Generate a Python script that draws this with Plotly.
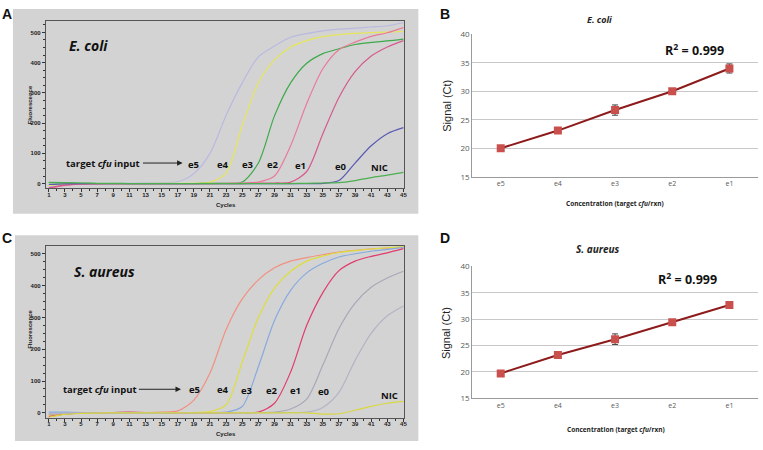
import plotly.graph_objects as go

W, H = 763, 450

# ---------------- data ----------------
cycles = [1, 3, 5, 7, 9, 11, 13, 15, 17, 19, 21, 23, 25, 27, 29, 31, 33, 35, 37, 39, 41, 43, 45]
cycle_ticks = [1, 3, 5, 7, 9, 11, 13, 15, 17, 19, 21, 23, 25, 27, 29, 31, 33, 35, 37, 39, 41, 43, 45]
fluor_ticks = [0, 100, 200, 300, 400, 500]

# Panel A: E. coli amplification curves
ecoli_e5 = [-10, -4, -1, 0, 0, 1, 2, 3, 6, 33, 100, 226, 333, 419, 455, 484, 496, 505, 511, 514, 518, 522, 532]
ecoli_e4 = [-6, -2, 0, 0, 0, 0, 0, 1, 1, 1, 5, 35, 192, 333, 409, 452, 473, 486, 493, 497, 499, 501, 503]
ecoli_e3 = [3, 2, 1, 0, 0, 0, 0, 0, 0, 0, 1, 1, 5, 68, 224, 333, 398, 430, 446, 460, 467, 472, 478]
ecoli_e2 = [-16, -6, -2, 0, 0, 0, 0, 0, 0, 0, 0, 1, 2, 5, 25, 125, 265, 380, 443, 468, 487, 499, 516]
ecoli_e1 = [-14, -5, -2, -1, 0, 0, 0, 0, 0, 0, 0, 0, 0, 1, 2, 5, 40, 165, 285, 370, 422, 452, 473]
ecoli_e0 = [-3, -1, 0, 0, 0, 0, 0, 0, 0, 0, 0, 0, 0, 0, 0, 0, 0, 1, 10, 68, 125, 165, 185]
ecoli_nic = [4, 3, 2, 1, 1, 0, 0, 0, 0, 0, 0, 0, 0, 0, 0, 0, 1, 2, 3, 10, 20, 28, 37]

# Panel C: S. aureus amplification curves
saur_e5 = [-6, -2, 0, 0, 0, 1, 1, 2, 6, 40, 125, 262, 358, 418, 456, 477, 488, 497, 505, 511, 515, 518, 521]
saur_e4 = [-8, -3, -1, 0, 0, 0, 0, 0, 0, 1, 4, 25, 160, 300, 392, 445, 477, 493, 504, 510, 515, 519, 522]
saur_e3 = [2, 2, 1, 0, 0, 0, 0, 0, 0, 0, 1, 2, 20, 145, 290, 385, 440, 470, 490, 500, 508, 514, 520]
saur_e2 = [-12, -4, -1, 0, 1, 2, 1, 1, 0, 0, 0, 0, 1, 2, 30, 128, 275, 378, 447, 477, 492, 503, 516]
saur_e1 = [-4, -2, -1, 0, 0, 0, 0, 0, 0, 0, 0, 0, 0, 1, 2, 12, 43, 150, 265, 345, 395, 424, 445]
saur_e0 = [-3, -1, 0, 0, 0, 0, 0, 0, 0, 0, 0, 0, 0, 0, 0, 1, 2, 17, 64, 165, 250, 305, 336]
saur_nic = [-14, -5, -2, -1, 0, 0, 0, 0, 0, 0, 0, 0, 0, 0, 0, 0, 0, -4, -3, 8, 20, 30, 36]

# Panels B and D: standard curves
conc = ["e5", "e4", "e3", "e2", "e1"]
ecoli_ct = [20.0, 23.1, 26.7, 30.0, 34.0]
ecoli_err = [0.2, 0.2, 0.9, 0.2, 0.8]
saur_ct = [19.7, 23.2, 26.2, 29.4, 32.7]
saur_err = [0.2, 0.2, 1.0, 0.2, 0.2]
ct_ticks = [15, 20, 25, 30, 35, 40]

curve_labels = ["e5", "e4", "e3", "e2", "e1", "e0", "NIC"]

# ---------------- helpers ----------------
def fx(px):
    return px / W

def fy(py):
    return 1 - py / H

fig = go.Figure()

ecoli_series = [ecoli_e5, ecoli_e4, ecoli_e3, ecoli_e2, ecoli_e1, ecoli_e0, ecoli_nic]
ecoli_colors = ["#b9b9e2", "#e6e65a", "#3da94a", "#ea7a9a", "#d65a8c", "#5a5ab4", "#4caf50"]
saur_series = [saur_e5, saur_e4, saur_e3, saur_e2, saur_e1, saur_e0, saur_nic]
saur_colors = ["#f29080", "#dede3c", "#88aadf", "#e23c6c", "#a8a8b8", "#b4b4c6", "#d8d840"]

for ys, col in zip(ecoli_series, ecoli_colors):
    fig.add_trace(go.Scatter(x=cycles, y=ys, mode="lines", line=dict(color=col, width=1.2, shape="spline", smoothing=0.8),
                             xaxis="x", yaxis="y", showlegend=False, hoverinfo="skip"))
for ys, col in zip(saur_series, saur_colors):
    fig.add_trace(go.Scatter(x=cycles, y=ys, mode="lines", line=dict(color=col, width=1.2, shape="spline", smoothing=0.8),
                             xaxis="x2", yaxis="y2", showlegend=False, hoverinfo="skip"))

for ys, err, xa, ya in [(ecoli_ct, ecoli_err, "x3", "y3"), (saur_ct, saur_err, "x4", "y4")]:
    fig.add_trace(go.Scatter(x=conc, y=ys, mode="lines+markers",
                             line=dict(color="#8e1b1b", width=2),
                             marker=dict(symbol="square", size=8, color="#c9504d"),
                             error_y=dict(type="data", array=err, color="#404040", thickness=1, width=3),
                             xaxis=xa, yaxis=ya, showlegend=False, hoverinfo="skip"))

# ---------------- gray panels ----------------
shapes = []
for (x0, y0, x1, y1) in [(13, 3, 420, 213), (15, 235, 420, 446)]:
    shapes.append(dict(type="rect", xref="paper", yref="paper", x0=fx(x0), x1=fx(x1), y0=fy(y1), y1=fy(y0),
                       fillcolor="#d3d3d3", line=dict(width=0), layer="below"))

amp_tickfont = dict(family="Liberation Sans", size=6, color="#222", weight="bold")

def amp_xaxis(d0, d1, anchor):
    return dict(domain=[fx(d0), fx(d1)], range=[0.63, 45.12], anchor=anchor,
                tickmode="array", tickvals=cycle_ticks, ticktext=[str(t) for t in cycle_ticks],
                ticks="outside", ticklen=3, tickcolor="#333", tickwidth=1, ticklabelstandoff=-3,
                minor=dict(dtick=1, ticks="outside", ticklen=2, tickcolor="#333"),
                showline=True, linecolor="#555", linewidth=1, mirror=True,
                showgrid=False, zeroline=False, tickfont=amp_tickfont, fixedrange=True)

def amp_yaxis(top, bottom, rng, anchor):
    return dict(domain=[fy(bottom), fy(top)], range=rng, anchor=anchor,
                tickmode="array", tickvals=fluor_ticks, ticktext=[str(t) for t in fluor_ticks],
                ticks="outside", ticklen=3, tickcolor="#333",
                minor=dict(dtick=25, ticks="outside", ticklen=2, tickcolor="#333"),
                showline=True, linecolor="#555", linewidth=1, mirror=True,
                showgrid=False, zeroline=False, tickfont=amp_tickfont, fixedrange=True)

ct_font = dict(family="Open Sans", size=8, color="#595959")

def ct_xaxis(anchor):
    return dict(domain=[fx(474), fx(761)], anchor=anchor, type="category",
                categoryorder="array", categoryarray=conc, range=[-0.5, 4.5],
                showline=True, linecolor="#9a9a9a", linewidth=1, ticks="",
                showgrid=False, zeroline=False, tickfont=dict(family="Open Sans", size=7, color="#595959"),
                fixedrange=True)

def ct_yaxis(top, bottom, anchor):
    return dict(domain=[fy(bottom), fy(top)], range=[15, 40], anchor=anchor,
                tickmode="array", tickvals=ct_ticks, ticktext=[str(t) for t in ct_ticks],
                showline=True, linecolor="#9a9a9a", linewidth=1, ticks="",
                showgrid=True, gridcolor="#c8c8c8", gridwidth=1, zeroline=False,
                tickfont=ct_font, fixedrange=True)

annotations = []

def ann(text, px, py, size, family="Open Sans", color="#111", weight="bold", style="normal", angle=0, xanchor="center"):
    annotations.append(dict(text=text, x=fx(px), y=fy(py), xref="paper", yref="paper",
                            showarrow=False, xanchor=xanchor, yanchor="middle", textangle=angle,
                            font=dict(family=family, size=size, color=color, weight=weight, style=style)))

# panel letters
ann("A", 7, 8, 14, family="Liberation Sans")
ann("B", 447, 8, 14, family="Liberation Sans")
ann("C", 7, 238, 14, family="Liberation Sans")
ann("D", 447, 238, 14, family="Liberation Sans")

# amplification axis titles
ann("Fluorescence", 30, 101, 6, family="Liberation Sans", angle=-90, color="#222")
ann("Cycles", 227, 204, 6, family="Liberation Sans", color="#222")
ann("Fluorescence", 30, 331, 6, family="Liberation Sans", angle=-90, color="#222")
ann("Cycles", 227, 439, 6, family="Liberation Sans", color="#222")

# organism names inside amplification plots
ann("E. coli", 89, 40, 14, style="italic")
ann("S. aureus", 105, 272, 14, style="italic")

# curve labels, data coordinates
def data_ann(text, x, y, xa, ya, size=9.5):
    annotations.append(dict(text=text, x=x, y=y, xref=xa, yref=ya, showarrow=False,
                            font=dict(family="Open Sans", size=size, color="#111", weight="bold")))

ecoli_label_x = [18.9, 22.6, 25.7, 28.8, 32.2, 37.2, 42.0]
ecoli_label_y = [64, 64, 64, 62, 60, 56, 53]
saur_label_x = [19.1, 22.6, 25.6, 28.7, 31.6, 35.1, 43.3]
saur_label_y = [72, 72, 70, 70, 70, 66, 53]
for t, x, y in zip(curve_labels, ecoli_label_x, ecoli_label_y):
    data_ann(t, x, y, "x", "y")
for t, x, y in zip(curve_labels, saur_label_x, saur_label_y):
    data_ann(t, x, y, "x2", "y2")

data_ann("target <i>cfu</i> input", 7.7, 68, "x", "y")
data_ann("target <i>cfu</i> input", 7.3, 74, "x2", "y2")
for xa, ya, xh, xt, y in [("x", "y", 17.6, 12.5, 68), ("x2", "y2", 17.4, 12.0, 74)]:
    annotations.append(dict(text="", x=xh, y=y, xref=xa, yref=ya, ax=xt, ay=y,
                            axref=xa, ayref=ya, showarrow=True, arrowhead=2, arrowsize=1.1,
                            arrowwidth=1, arrowcolor="#222"))

# standard curve texts
ann("E. coli", 602, 14, 9, style="italic", color="#222")
ann("S. aureus", 600, 249, 10, style="italic", color="#222")
ann("R<sup>2</sup> = 0.999", 697, 45, 12.5)
ann("R<sup>2</sup> = 0.999", 690, 280, 12.5)
ann("Signal (Ct)", 448, 102, 11, family="Liberation Sans", weight="normal", angle=-90, color="#222")
ann("Signal (Ct)", 448, 335, 11, family="Liberation Sans", weight="normal", angle=-90, color="#222")
ann("Concentration (target <i>cfu</i>/rxn)", 617, 202, 6.5, color="#222")
ann("Concentration (target <i>cfu</i>/rxn)", 618, 434, 6.5, color="#222")

fig.update_layout(
    width=W, height=H, margin=dict(l=0, r=0, t=0, b=0),
    paper_bgcolor="white", plot_bgcolor="white",
    xaxis=amp_xaxis(46, 406, "y"),
    yaxis=amp_yaxis(15, 187, [-16, 539], "x"),
    xaxis2=amp_xaxis(46, 406, "y2"),
    yaxis2=amp_yaxis(246, 422, [-15.3, 524.5], "x2"),
    xaxis3=ct_xaxis("y3"),
    yaxis3=ct_yaxis(29, 175, "x3"),
    xaxis4=ct_xaxis("y4"),
    yaxis4=ct_yaxis(267, 402, "x4"),
    shapes=shapes,
    annotations=annotations,
)

fig.write_html(
    "out.html",
    config={"displayModeBar": False, "staticPlot": True},
    post_script=("document.body.style.margin='0';document.body.style.overflow='hidden';"
                 "var d=document.getElementById('{plot_id}');d.style.position='fixed';"
                 "d.style.top='0px';d.style.left='0px';"),
)
